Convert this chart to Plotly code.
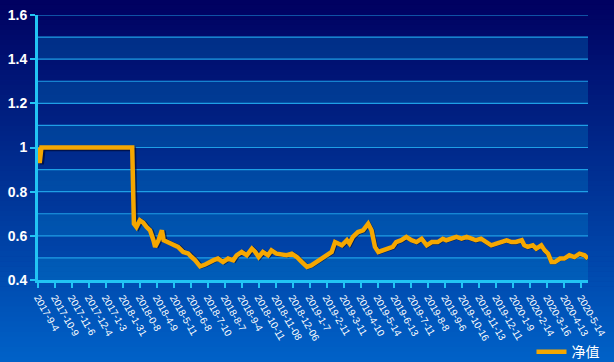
import plotly.graph_objects as go

# ---- data ----
tick_labels = [
    "2017-9-4", "2017-10-9", "2017-11-6", "2017-12-4", "2017-1-3",
    "2018-1-31", "2018-0-8", "2018-4-9", "2018-5-11", "2018-6-8",
    "2018-7-10", "2018-8-7", "2018-9-4", "2018-10-11", "2018-11-08",
    "2018-12-06", "2019-1-7", "2019-2-11", "2019-3-11", "2019-4-10",
    "2019-5-14", "2019-6-13", "2019-7-11", "2019-8-8", "2019-9-6",
    "2019-10-16", "2019-11-13", "2019-12-11", "2020-1-9", "2020-2-14",
    "2020-3-16", "2020-4-13", "2020-5-14",
]
days_per_label = 20  # trading days between labelled ticks

# trading-day index and net value
day_index = [
    0, 2, 4, 111, 113, 116, 120, 124, 128, 132, 136, 138, 142, 146, 148,
    154, 160, 165, 171, 177, 181, 185, 191, 197, 207, 212, 218, 224, 230,
    234, 240, 246, 252, 256, 260, 265, 271, 275, 281, 289, 293, 299, 305,
    311, 317, 322, 328, 334, 340, 346, 350, 354, 358, 364, 367, 371, 377,
    383, 389, 393, 397, 401, 407, 412, 418, 422, 428, 434, 440, 446, 452,
    458, 464, 471, 477, 481, 487, 493, 499, 505, 511, 516, 522, 528, 534,
    540, 546, 552, 558, 563, 570, 573, 577, 583, 587, 593, 597, 601, 605,
    609, 615, 620, 626, 632, 638, 644, 648,
]
net_value = [
    1.0, 0.93, 1.0, 1.0, 0.655, 0.64, 0.67, 0.66, 0.64, 0.625, 0.58, 0.55,
    0.58, 0.625, 0.58, 0.57, 0.557, 0.55, 0.527, 0.52, 0.504, 0.49, 0.462,
    0.47, 0.49, 0.497, 0.481, 0.497, 0.489, 0.512, 0.527, 0.512, 0.542,
    0.527, 0.504, 0.527, 0.512, 0.534, 0.519, 0.512, 0.512, 0.519, 0.504,
    0.481, 0.459, 0.466, 0.481, 0.497, 0.512, 0.527, 0.572, 0.565, 0.557,
    0.58, 0.565, 0.595, 0.617, 0.625, 0.655, 0.625, 0.55, 0.527, 0.534,
    0.542, 0.55, 0.572, 0.58, 0.595, 0.58, 0.572, 0.587, 0.557, 0.572,
    0.572, 0.587, 0.58, 0.587, 0.595, 0.587, 0.595, 0.587, 0.58, 0.587,
    0.572, 0.557, 0.565, 0.572, 0.58, 0.572, 0.572, 0.58, 0.557, 0.55,
    0.557, 0.542, 0.557, 0.534, 0.519, 0.481, 0.481, 0.497, 0.497, 0.512,
    0.504, 0.519, 0.512, 0.497,
]
series_name = "净值"
y_ticks = [0.4, 0.6, 0.8, 1.0, 1.2, 1.4, 1.6]
y_tick_text = ["0.4", "0.6", "0.8", "1", "1.2", "1.4", "1.6"]
band_edges = [0.4, 0.6, 0.8, 1.0, 1.2, 1.4]  # lower edge of lighter 0.1 bands

W, H = 614, 362
ML, MR, MT, MB = 38, 26, 15, 82
x_max = 648
tick_vals = [i * days_per_label for i in range(len(tick_labels))]

LINE_COLOR = "#f5a700"
AXIS_COLOR = "#22c4f4"
GRID_COLOR = "#1e9fe6"

pw = W - ML - MR
ph = H - MT - MB
dx = 2.0 / pw
dy = 3.0 / ph

fig = go.Figure()

# shadow (offset copy on shifted invisible axes x2/y2)
fig.add_trace(go.Scatter(
    x=day_index, y=net_value, mode="lines", xaxis="x2", yaxis="y2",
    line=dict(color="rgba(0,0,30,0.55)", width=4.5), showlegend=False,
    hoverinfo="skip",
))
# main line on x3/y3 (same domain as the visible axes, drawn above shadow)
fig.add_trace(go.Scatter(
    x=day_index, y=net_value, mode="lines", name=series_name,
    xaxis="x3", yaxis="y3",
    line=dict(color=LINE_COLOR, width=4.5, shape="linear"),
))
# invisible anchor trace on main axes so they render
fig.add_trace(go.Scatter(
    x=[0, x_max], y=[None, None], mode="lines", showlegend=False,
    hoverinfo="skip",
))

# gradient background
shapes = []
n = 72
top = (0, 0, 96)
bot = (0, 98, 200)
for i in range(n):
    t = (i + 0.5) / n
    c = tuple(int(round(top[k] + (bot[k] - top[k]) * t)) for k in range(3))
    shapes.append(dict(
        type="rect", xref="paper", yref="paper",
        x0=-ML / pw - 0.01, x1=1 + MR / pw + 0.01,
        y0=1 + MT / ph - (i + 1) * (H / ph) / n - 0.001,
        y1=1 + MT / ph - i * (H / ph) / n + 0.001,
        fillcolor="rgb(%d,%d,%d)" % c, line=dict(width=0), layer="below",
    ))
# lighter bands
for b in band_edges:
    shapes.append(dict(
        type="rect", xref="x domain", yref="y", x0=0, x1=1, y0=b, y1=b + 0.1,
        fillcolor="rgba(0,140,210,0.28)", line=dict(width=0), layer="below",
    ))
# horizontal grid lines every 0.1
for k in range(1, 13):
    gv = round(0.4 + k * 0.1, 1)
    shapes.append(dict(type="line", xref="x domain", yref="y", x0=0, x1=1,
                       y0=gv, y1=gv, line=dict(color=GRID_COLOR, width=1.2),
                       layer="below"))

fig.update_layout(
    width=W, height=H,
    margin=dict(l=ML, r=MR, t=MT, b=MB, autoexpand=False),
    paper_bgcolor="#002f90",
    plot_bgcolor="rgba(0,0,0,0)",
    shapes=shapes,
    font=dict(family="Liberation Sans, Arial, sans-serif", color="white"),
    xaxis=dict(
        range=[0, x_max], tickmode="array", tickvals=tick_vals,
        ticktext=tick_labels, tickangle=60, automargin=False,
        tickfont=dict(size=10, color="white", family="Liberation Sans, Arial"),
        showgrid=False, zeroline=False,
        showline=True, linecolor=AXIS_COLOR, linewidth=3,
        ticks="outside", ticklen=5, tickwidth=2, tickcolor=AXIS_COLOR,
    ),
    yaxis=dict(
        range=[0.4, 1.6], tickmode="array", tickvals=y_ticks,
        ticktext=y_tick_text, automargin=False,
        tickfont=dict(size=14, color="white", family="Liberation Sans, Arial", weight="bold"),
        showgrid=False, zeroline=False,
        showline=True, linecolor=AXIS_COLOR, linewidth=3,
        ticks="outside", ticklen=5, tickwidth=2, tickcolor=AXIS_COLOR,
    ),
    xaxis2=dict(range=[0, x_max], domain=[dx, 1], anchor="y2", visible=False,
                automargin=False),
    yaxis2=dict(range=[0.4, 1.6], domain=[0, 1 - dy], anchor="x2", visible=False,
                automargin=False),
    xaxis3=dict(range=[0, x_max], domain=[0, 1], anchor="y3", visible=False,
                automargin=False),
    yaxis3=dict(range=[0.4, 1.6], domain=[0, 1], anchor="x3", visible=False,
                automargin=False),
    legend=dict(
        orientation="h", x=1.03, xanchor="right", y=-0.272, yanchor="middle",
        bgcolor="rgba(0,0,0,0)",
        font=dict(size=14, color="white", family="Noto Sans CJK SC"),
    ),
)

fig.write_html("out.html", config={"displayModeBar": False},
               post_script="document.body.style.margin='0';")
